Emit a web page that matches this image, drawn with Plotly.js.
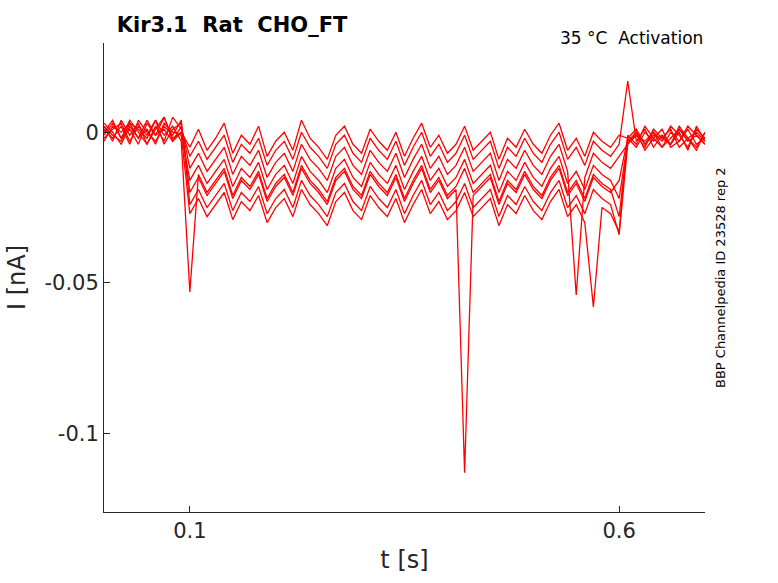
<!DOCTYPE html>
<html>
<head>
<meta charset="utf-8">
<script src="https://cdn.plot.ly/plotly-3.0.1.min.js"></script>
<style>body{margin:0;background:#fff}#main{width:778px;height:583px}</style>
</head>
<body>
<div id="main"></div>
<script>
// current samples in pA (x1e-3 nA), sampled every 10 ms from 0 to 0.7 s
const traceA = [2,-3,4,-1,3,-4,1,5,-2,0,
  -5,1,-6,-2,3,-7,-1,-4,2,-8,-3,0,-6,4,-2,-5,-9,-1,2,-4,-7,1,-3,-6,0,-8,-2,3,-5,-1,-7,-4,2,-6,-3,0,-9,-2,-5,1,-4,-7,-1,3,-6,-2,-8,0,-3,-5,-1,
  -2,1,-4,0,-3,2,-1,-5,1,-2]
const traceB = [-1,3,-2,4,0,-4,2,-3,5,1,
  -8,-3,-9,-5,-1,-10,-4,-7,-2,-11,-6,-3,-9,0,-5,-8,-12,-4,-1,-7,-10,-2,-6,-9,-3,-11,-5,0,-8,-4,-10,-7,-1,-9,-6,-3,-12,-5,-8,-2,-7,-10,-4,0,-9,-5,-11,-3,-6,-8,-4,
  17,-3,1,-5,-1,-4,2,-2,-6,0]
const traceC = [3,0,-4,2,-2,4,-1,1,-3,2,
  -12,-7,-13,-9,-5,-14,-8,-11,-6,-15,-10,-7,-13,-4,-9,-12,-16,-8,-5,-11,-14,-6,-10,-13,-7,-15,-9,-4,-12,-8,-14,-11,-5,-13,-10,-7,-16,-9,-12,-6,-11,-14,-8,-4,-13,-54,-15,-7,-10,-12,-8,
  -4,0,-6,-2,1,-5,-3,2,-1,-4]
const traceD = [0,4,-2,1,-4,3,-1,5,-3,0,
  -16,-11,-17,-13,-9,-18,-12,-15,-10,-19,-14,-11,-17,-8,-13,-16,-20,-12,-9,-15,-18,-10,-14,-17,-11,-19,-13,-8,-16,-12,-18,-15,-9,-17,-14,-11,-20,-13,-16,-10,-15,-18,-12,-8,-17,-13,-19,-11,-14,-16,-22,
  -3,-1,-5,1,-2,-4,0,-6,2,-3]
const traceE = [-2,1,3,-3,2,-1,4,-4,1,3,
  -20,-15,-21,-17,-13,-22,-16,-19,-14,-23,-18,-15,-21,-12,-17,-20,-24,-16,-13,-19,-22,-14,-18,-21,-15,-23,-17,-12,-20,-16,-22,-19,-113,-21,-18,-15,-24,-17,-20,-14,-19,-22,-16,-12,-21,-17,-23,-15,-18,-20,-16,
  -2,-5,0,-3,-1,-4,1,-2,-5,0]
const traceF = [1,-2,2,-4,4,0,-3,2,-1,4,
  -24,-19,-25,-21,-17,-26,-20,-23,-18,-27,-22,-19,-25,-16,-21,-24,-28,-20,-17,-23,-26,-18,-22,-25,-19,-27,-21,-16,-24,-20,-26,-23,-17,-25,-22,-19,-28,-21,-24,-18,-23,-26,-20,-16,-25,-21,-27,-19,-22,-24,-34,
  -4,-1,-3,0,-5,-2,1,-3,-1,-4]
const traceG = [-3,2,0,3,-2,1,-4,3,0,-1,
  -27,-22,-28,-24,-20,-29,-23,-26,-21,-30,-25,-22,-28,-19,-24,-27,-31,-23,-20,-26,-29,-21,-25,-28,-22,-30,-24,-19,-27,-23,-29,-26,-20,-28,-25,-22,-31,-24,-27,-21,-26,-29,-23,-19,-28,-24,-30,-58,-25,-27,-33,
  -1,-4,2,-2,-5,0,-3,1,-4,-2]
const traceH = [2,-1,-3,3,1,-2,4,-1,2,-3,
  -53,-14,-20,-16,-12,-21,-15,-18,-13,-22,-17,-14,-20,-11,-16,-19,-23,-15,-12,-18,-21,-13,-17,-20,-14,-22,-16,-11,-19,-15,-21,-18,-12,-20,-17,-14,-23,-16,-19,-13,-18,-21,-15,-11,-20,-16,-22,-14,-17,-19,-28,
  -3,0,-4,-1,-2,1,-5,-2,0,-3]

const traces = [traceA, traceB, traceC, traceD, traceE, traceF, traceG, traceH]
const dt = 0.01

const plotData = traces.map(tr => ({
  x: tr.map((v, i) => +(i * dt).toFixed(3)),
  y: tr.map(v => v / 1000),
  type: 'scatter',
  mode: 'lines',
  line: {color: '#ff0000', width: 1.3},
  showlegend: false,
  hoverinfo: 'skip'
}))

const axisCommon = {
  showgrid: false, zeroline: false, showline: true, linecolor: '#262626', linewidth: 1,
  ticks: 'inside', ticklen: 6, tickcolor: '#262626',
  tickfont: {family: 'DejaVu Sans', size: 21, color: '#262626'}
}

Plotly.newPlot('main', plotData, {
  width: 778, height: 583,
  margin: {l: 104, r: 73, t: 43, b: 71},
  paper_bgcolor: '#fff', plot_bgcolor: '#fff',
  title: {text: '<b>Kir3.1  Rat  CHO_FT</b>', x: 0.15, xanchor: 'left', y: 0.97,
    font: {family: 'DejaVu Sans', size: 21, color: '#000'}},
  xaxis: Object.assign({}, axisCommon, {
    range: [0, 0.7], tickvals: [0.1, 0.6], ticktext: ['0.1', '0.6'],
    title: {text: 't [s]', font: {family: 'DejaVu Sans', size: 24, color: '#262626'}, standoff: 8}
  }),
  yaxis: Object.assign({}, axisCommon, {
    range: [-0.126, 0.0296], tickvals: [0, -0.05, -0.1], ticktext: ['0', '-0.05', '-0.1'],
    title: {text: 'I [nA]', font: {family: 'DejaVu Sans', size: 24, color: '#262626'}, standoff: 12}
  }),
  annotations: [
    {text: '35 °C  Activation', xref: 'paper', yref: 'paper', x: 1, y: 1.01, xanchor: 'right', yanchor: 'middle',
      showarrow: false, font: {family: 'DejaVu Sans', size: 17, color: '#000'}},
    {text: 'BBP Channelpedia ID 23528 rep 2', xref: 'paper', yref: 'paper', x: 1.01, y: 0.5, xanchor: 'left', yanchor: 'middle',
      textangle: -90, showarrow: false, font: {family: 'DejaVu Sans', size: 13, color: '#000'}}
  ]
}, {staticPlot: true})
</script>
</body>
</html>
